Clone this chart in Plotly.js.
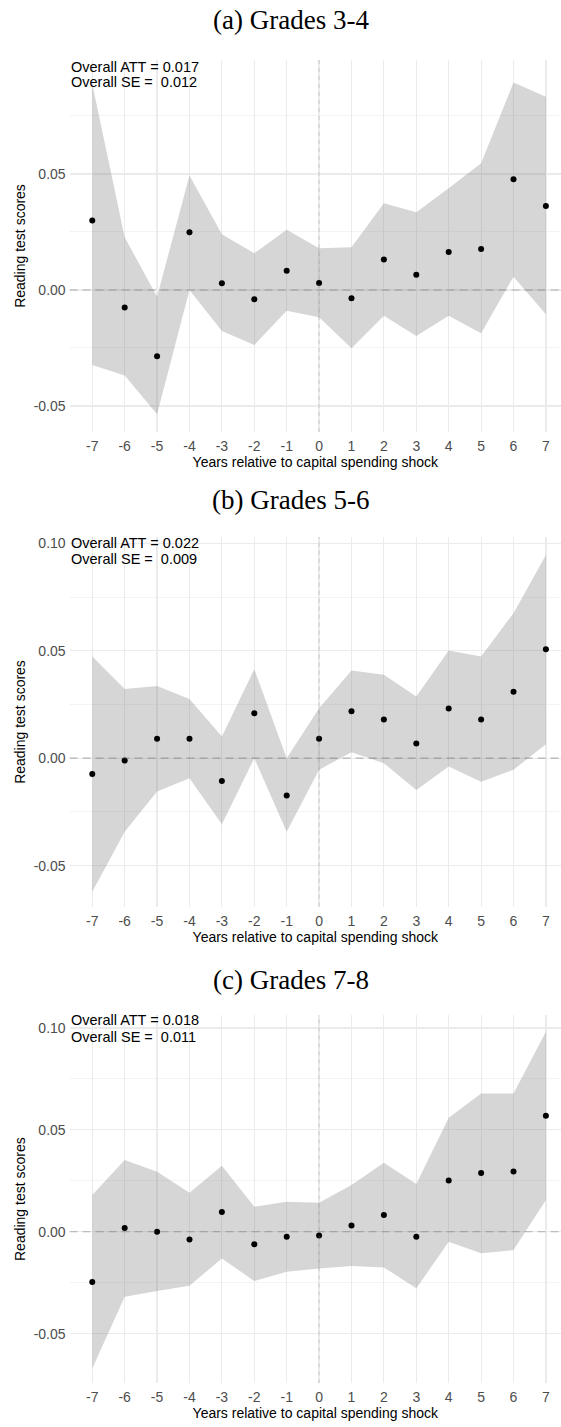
<!DOCTYPE html>
<html><head><meta charset="utf-8">
<script src="https://cdn.plot.ly/plotly-3.0.1.min.js"></script>
<style>html,body{margin:0;padding:0;background:#fff;} #chart{width:561px;height:1427px;}</style>
</head><body><div id="chart"></div>
<script>
// ---- data ----
const years = [-7,-6,-5,-4,-3,-2,-1,0,1,2,3,4,5,6,7];
const xTickLabels = ['-7','-6','-5','-4','-3','-2','-1','0','1','2','3','4','5','6','7'];
const panelTitles = ['(a) Grades 3-4','(b) Grades 5-6','(c) Grades 7-8'];
const attLines = ['Overall ATT = 0.017','Overall ATT = 0.022','Overall ATT = 0.018'];
const seLines = ['Overall SE = \u00a00.012','Overall SE = \u00a00.009','Overall SE = \u00a00.011'];
const xTitle = 'Years relative to capital spending shock';
const yTitle = 'Reading test scores';

const estA   = [0.0299,-0.0075,-0.0286,0.0249,0.0029,-0.0040,0.0083,0.0030,-0.0036,0.0131,0.0066,0.0164,0.0177,0.0477,0.0362];
const upperA = [0.0888,0.0227,-0.0029,0.0493,0.0240,0.0158,0.0259,0.0180,0.0184,0.0374,0.0335,0.0438,0.0546,0.0894,0.0833];
const lowerA = [-0.0323,-0.0369,-0.0536,0.0000,-0.0177,-0.0237,-0.0089,-0.0118,-0.0251,-0.0111,-0.0198,-0.0111,-0.0187,0.0057,-0.0105];

const estB   = [-0.0074,-0.0011,0.0090,0.0090,-0.0106,0.0209,-0.0174,0.0091,0.0218,0.0180,0.0068,0.0231,0.0180,0.0309,0.0507];
const upperB = [0.0473,0.0322,0.0336,0.0275,0.0101,0.0414,0.0000,0.0233,0.0408,0.0388,0.0287,0.0501,0.0473,0.0675,0.0946];
const lowerB = [-0.0621,-0.0342,-0.0155,-0.0093,-0.0307,0.0000,-0.0342,-0.0054,0.0028,-0.0023,-0.0148,-0.0039,-0.0109,-0.0054,0.0065];

const estC   = [-0.0247,0.0018,0.0000,-0.0038,0.0097,-0.0062,-0.0025,-0.0018,0.0031,0.0082,-0.0025,0.0252,0.0288,0.0296,0.0570];
const upperC = [0.0180,0.0352,0.0295,0.0192,0.0324,0.0123,0.0147,0.0142,0.0229,0.0339,0.0234,0.0560,0.0679,0.0679,0.0982];
const lowerC = [-0.0671,-0.0319,-0.0291,-0.0265,-0.0131,-0.0242,-0.0196,-0.0180,-0.0168,-0.0175,-0.0278,-0.0049,-0.0106,-0.0090,0.0156];

const yTickValsA = [-0.05,0,0.05];
const yTickTextA = ['-0.05','0.00','0.05'];
const yTickValsBC = [-0.05,0,0.05,0.10];
const yTickTextBC = ['-0.05','0.00','0.05','0.10'];

// ---- layout helpers ----
const W = 561, H = 1427;
const py = p => 1 - p / H;
const panels = [
  {est: estA, up: upperA, lo: lowerA, top: 60, bot: 432, range: [-0.0612, 0.0991], tv: yTickValsA, tt: yTickTextA, minor: [-0.025,0.025,0.075], titleY: 20, l1: 66.5, l2: 81.5},
  {est: estB, up: upperB, lo: lowerB, top: 537.3, bot: 906.7, range: [-0.0691, 0.1028], tv: yTickValsBC, tt: yTickTextBC, minor: [-0.025,0.025,0.075], titleY: 500, l1: 543.3, l2: 559.3},
  {est: estC, up: upperC, lo: lowerC, top: 1015, bot: 1383.3, range: [-0.0744, 0.1064], tv: yTickValsBC, tt: yTickTextBC, minor: [-0.025,0.025,0.075], titleY: 980, l1: 1020, l2: 1036.5}
];

const sans = 'Liberation Sans, Arial, sans-serif';
const traces = [];
const layout = {
  width: W, height: H,
  margin: {l: 0, r: 0, t: 0, b: 0},
  paper_bgcolor: '#ffffff', plot_bgcolor: '#ffffff',
  showlegend: false,
  font: {family: sans, size: 14, color: '#000'},
  annotations: [], shapes: []
};
const xLeft = 69.6 / W;

panels.forEach((p, i) => {
  const n = i === 0 ? '' : String(i + 1);
  const xa = 'x' + n, ya = 'y' + n;
  traces.push({x: years, y: p.up, xaxis: xa, yaxis: ya, type: 'scatter', mode: 'lines', line: {width: 0, color: 'rgba(0,0,0,0)'}, hoverinfo: 'skip'});
  traces.push({x: years, y: p.lo, xaxis: xa, yaxis: ya, type: 'scatter', mode: 'lines', line: {width: 0, color: 'rgba(0,0,0,0)'}, fill: 'tonexty', fillcolor: 'rgba(127,127,127,0.32)', hoverinfo: 'skip'});
  traces.push({x: years, y: p.est, xaxis: xa, yaxis: ya, type: 'scatter', mode: 'markers', marker: {color: '#000', size: 6}});

  layout['xaxis' + n] = {
    domain: [xLeft, 1], anchor: ya, range: [-7.7, 7.466],
    tickmode: 'array', tickvals: years, ticktext: xTickLabels,
    showgrid: true, gridcolor: '#EBEBEB', gridwidth: 1.2, zeroline: false, showline: false, ticks: '',
    ticklabelstandoff: 4,
    tickfont: {family: sans, size: 14, color: '#4D4D4D'},
    title: {text: xTitle, font: {family: sans, size: 14, color: '#000'}, standoff: 1}
  };
  layout['yaxis' + n] = {
    domain: [py(p.bot), py(p.top)], anchor: xa, range: p.range,
    tickmode: 'array', tickvals: p.tv, ticktext: p.tt,
    showgrid: true, gridcolor: '#EBEBEB', gridwidth: 1.2, zeroline: false, showline: false, ticks: '',
    ticklabelstandoff: 3,
    minor: {tickmode: 'array', tickvals: p.minor, showgrid: true, gridcolor: '#F0F0F0', gridwidth: 0.8},
    tickfont: {family: sans, size: 14, color: '#4D4D4D'},
    title: {text: yTitle, font: {family: sans, size: 14, color: '#000'}, standoff: 4}
  };
  layout.shapes.push({type: 'line', xref: xa + ' domain', x0: 0, x1: 1, yref: ya, y0: 0, y1: 0, layer: 'above',
    line: {color: 'rgba(100,100,100,0.45)', width: 1.2, dash: '8px,5px'}});
  layout.shapes.push({type: 'line', xref: xa, x0: 0, x1: 0, yref: ya + ' domain', y0: 0, y1: 1, layer: 'above',
    line: {color: 'rgba(140,140,140,0.35)', width: 1, dash: '4px,4px'}});
  layout.annotations.push({text: panelTitles[i], xref: 'paper', yref: 'paper', x: 290.5 / W, y: py(p.titleY),
    xanchor: 'center', yanchor: 'middle', showarrow: false, font: {family: 'Liberation Serif, Times New Roman, serif', size: 27, color: '#000'}});
  layout.annotations.push({text: attLines[i], xref: 'paper', yref: 'paper', x: 69 / W, y: py(p.l1),
    xanchor: 'left', yanchor: 'middle', showarrow: false, font: {family: sans, size: 14.5, color: '#000'}});
  layout.annotations.push({text: seLines[i], xref: 'paper', yref: 'paper', x: 69 / W, y: py(p.l2),
    xanchor: 'left', yanchor: 'middle', showarrow: false, font: {family: sans, size: 14.5, color: '#000'}});
});

Plotly.newPlot('chart', traces, layout, {staticPlot: true, displayModeBar: false});
</script>
</body></html>
